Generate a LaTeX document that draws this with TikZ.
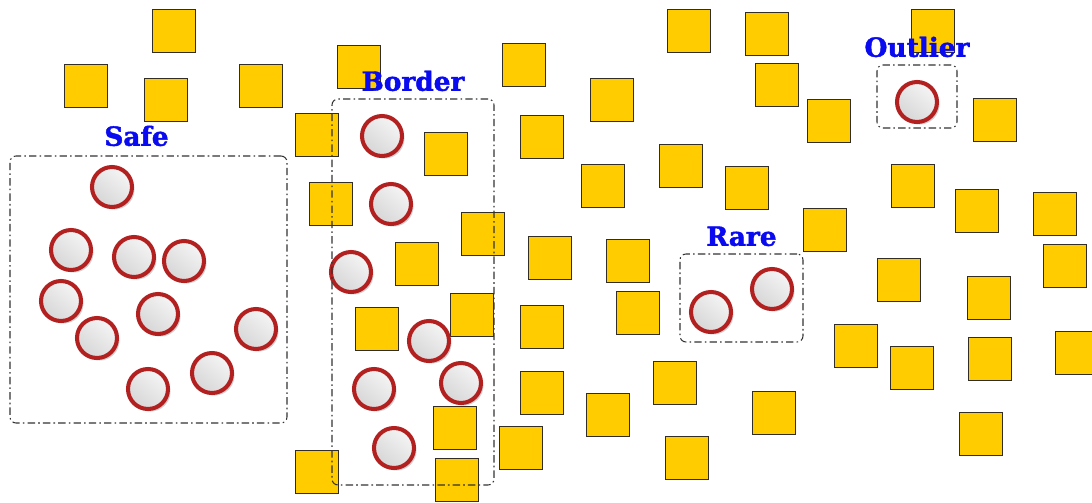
\documentclass[tikz,border=0pt]{standalone}
\usepackage{fontspec}
\newfontfamily\lblfont{DejaVu Serif}[BoldFeatures={FakeBold=1.6}]
\usepackage{tikz}
\usetikzlibrary{positioning, shadows}

\definecolor{ringred}{RGB}{178,32,32}
\definecolor{sqyellow}{RGB}{255,204,0}
\definecolor{sqedge}{RGB}{51,45,40}
\definecolor{lblblue}{RGB}{10,10,240}

\begin{document}
\begin{tikzpicture}[
  sq/.style={rectangle, draw=sqedge, fill=sqyellow, line width=0.8pt, minimum size=8.6mm, inner sep=0pt},
  pt/.style={circle, draw=ringred, line width=2.3pt, minimum size=8mm, inner sep=0pt,
    top color=gray!8, bottom color=gray!32, shading angle=-40,
    drop shadow={shadow xshift=0.05cm, shadow yshift=-0.05cm, opacity=0.18, fill=black}},
  grp/.style={rectangle, draw=black!80, line width=0.6pt, rounded corners=1.2mm, inner sep=0pt,
    dash pattern=on 4.2pt off 1.8pt on 0.9pt off 1.8pt},
  lbl/.style={text=lblblue, font=\lblfont\bfseries\fontsize{15}{18}\selectfont, inner sep=0pt},
  scale=1.0]
  \useasboundingbox (0,0) rectangle (21.84,-10.04);
  % squares
  \node[sq] (q1) at (3.48,-0.62) {};
  \node[sq] (q2) at (1.72,-1.72) {};
  \node[sq] (q3) at (3.32,-2.00) {};
  \node[sq] (q4) at (5.22,-1.72) {};
  \node[sq] (q5) at (7.18,-1.34) {};
  \node[sq] (q6) at (6.34,-2.70) {};
  \node[sq] (q7) at (6.62,-4.08) {};
  \node[sq] (q8) at (8.92,-3.08) {};
  \node[sq] (q9) at (9.66,-4.68) {};
  \node[sq] (q10) at (8.34,-5.28) {};
  \node[sq] (q11) at (7.54,-6.58) {};
  \node[sq] (q12) at (9.44,-6.30) {};
  \node[sq] (q13) at (9.10,-8.56) {};
  \node[sq] (q14) at (9.14,-9.60) {};
  \node[sq] (q15) at (6.34,-9.44) {};
  \node[sq] (q16) at (10.48,-1.30) {};
  \node[sq] (q17) at (10.84,-2.74) {};
  \node[sq] (q18) at (12.24,-2.00) {};
  \node[sq] (q19) at (12.06,-3.72) {};
  \node[sq] (q20) at (11.00,-5.16) {};
  \node[sq] (q21) at (12.56,-5.22) {};
  \node[sq] (q22) at (10.84,-6.54) {};
  \node[sq] (q23) at (12.76,-6.26) {};
  \node[sq] (q24) at (10.84,-7.86) {};
  \node[sq] (q25) at (10.42,-8.96) {};
  \node[sq] (q26) at (12.16,-8.30) {};
  \node[sq] (q27) at (13.50,-7.66) {};
  \node[sq] (q28) at (13.74,-9.16) {};
  \node[sq] (q29) at (15.48,-8.26) {};
  \node[sq] (q30) at (13.78,-0.62) {};
  \node[sq] (q31) at (15.34,-0.68) {};
  \node[sq] (q32) at (15.54,-1.70) {};
  \node[sq] (q33) at (13.62,-3.32) {};
  \node[sq] (q34) at (14.94,-3.76) {};
  \node[sq] (q35) at (16.58,-2.42) {};
  \node[sq] (q36) at (16.50,-4.60) {};
  \node[sq] (q37) at (18.66,-0.62) {};
  \node[sq] (q38) at (19.90,-2.40) {};
  \node[sq] (q39) at (18.26,-3.72) {};
  \node[sq] (q40) at (19.54,-4.22) {};
  \node[sq] (q41) at (21.10,-4.28) {};
  \node[sq] (q42) at (21.30,-5.32) {};
  \node[sq] (q43) at (17.98,-5.60) {};
  \node[sq] (q44) at (19.78,-5.96) {};
  \node[sq] (q45) at (17.12,-6.92) {};
  \node[sq] (q46) at (18.24,-7.36) {};
  \node[sq] (q47) at (19.80,-7.18) {};
  \node[sq] (q48) at (21.54,-7.06) {};
  \node[sq] (q49) at (19.62,-8.68) {};
  % safe examples
  \node[pt] (s1) at (2.24,-3.74) {};
  \node[pt] (s2) at (1.42,-5.00) {};
  \node[pt] (s3) at (2.68,-5.14) {};
  \node[pt] (s4) at (3.68,-5.22) {};
  \node[pt] (s5) at (1.22,-6.02) {};
  \node[pt] (s6) at (3.16,-6.28) {};
  \node[pt] (s7) at (1.94,-6.76) {};
  \node[pt] (s8) at (5.12,-6.58) {};
  \node[pt] (s9) at (4.24,-7.46) {};
  \node[pt] (s10) at (2.96,-7.78) {};
  % border examples
  \node[pt] (b1) at (7.64,-2.72) {};
  \node[pt] (b2) at (7.82,-4.08) {};
  \node[pt] (b3) at (7.02,-5.44) {};
  \node[pt] (b4) at (8.58,-6.82) {};
  \node[pt] (b5) at (7.48,-7.78) {};
  \node[pt] (b6) at (9.22,-7.66) {};
  \node[pt] (b7) at (7.88,-8.96) {};
  % rare and outlier
  \node[pt] (r1) at (14.22,-6.24) {};
  \node[pt] (r2) at (15.44,-5.78) {};
  \node[pt] (o1) at (18.34,-2.04) {};
  % groups
  \node[grp, minimum width=5.54cm, minimum height=5.34cm] (safebox) at (2.97,-5.79) {};
  \node[grp, minimum width=3.24cm, minimum height=7.72cm] (borderbox) at (8.26,-5.84) {};
  \node[grp, minimum width=2.46cm, minimum height=1.76cm] (rarebox) at (14.83,-5.96) {};
  \node[grp, minimum width=1.60cm, minimum height=1.26cm] (outbox) at (18.34,-1.93) {};
  \node[lbl, above=0.18cm of safebox, xshift=-0.24cm] (safe) {Safe};
  \node[lbl, above=0.14cm of borderbox] (border) {Border};
  \node[lbl, above=0.14cm of rarebox] (rare) {Rare};
  \node[lbl, above=0.14cm of outbox] (outlier) {Outlier};
\end{tikzpicture}
\end{document}
